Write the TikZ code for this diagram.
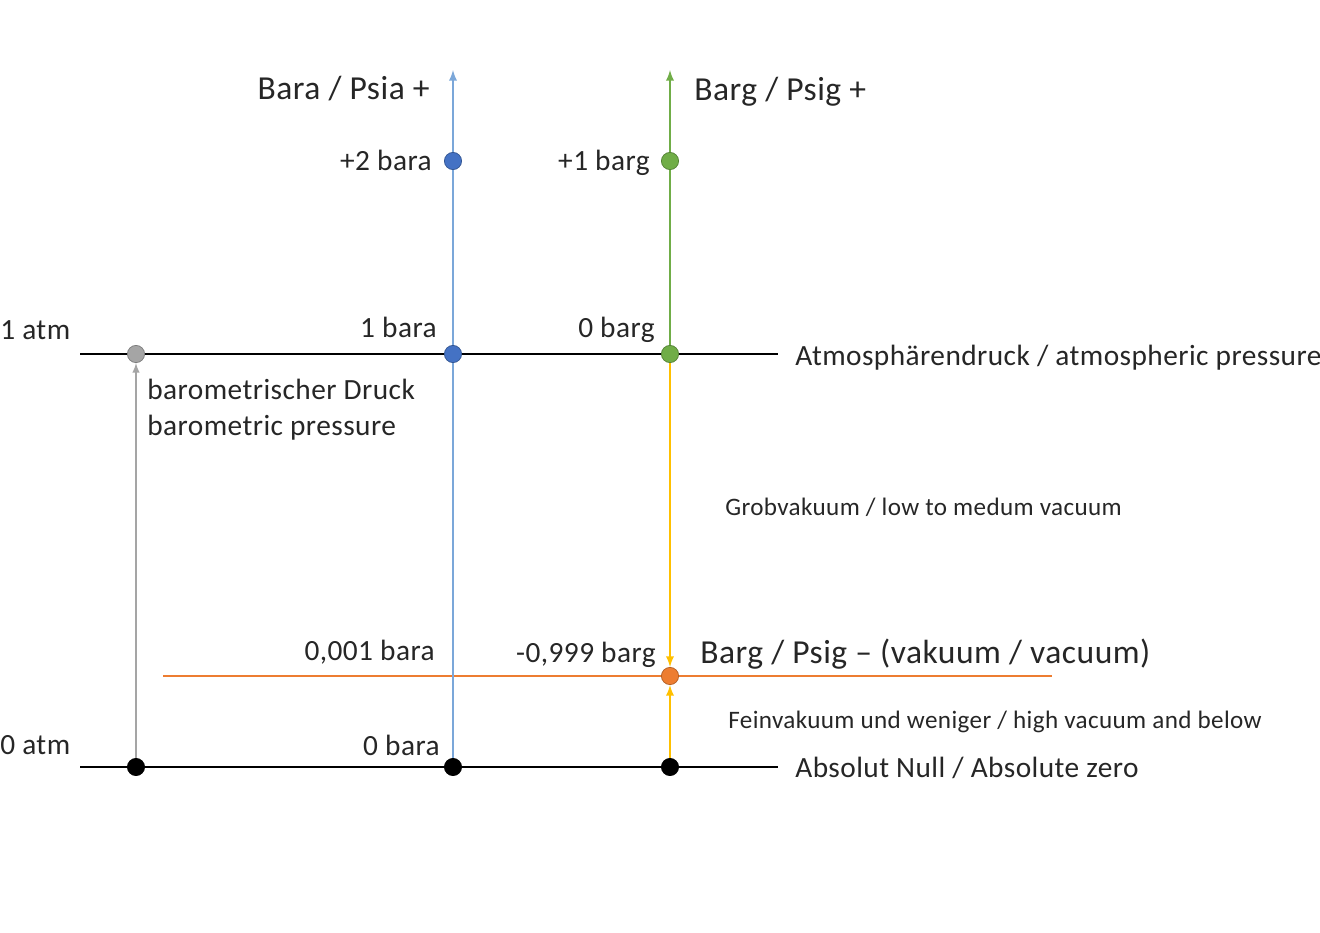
\documentclass[tikz,border=0pt]{standalone}
\usepackage{fontspec}
\setmainfont{Carlito}[LetterSpace=1.5]
\usetikzlibrary{backgrounds}
\definecolor{baraLine}{HTML}{7BA7D9}
\definecolor{baraDot}{HTML}{4472C4}
\definecolor{bargGreen}{HTML}{70AD47}
\definecolor{vacYellow}{HTML}{FFC000}
\definecolor{vacOrange}{HTML}{ED7D31}
\definecolor{baroGray}{HTML}{A5A5A5}
\definecolor{labelInk}{HTML}{262626}
\tikzset{
  dot/.style={circle, fill=#1, draw=#1!75!black, line width=0.4pt, minimum size=9.8pt, inner sep=0pt},
  bigText/.style={font=\fontsize{19.1}{23}\selectfont, text=labelInk, inner sep=0pt},
  midText/.style={font=\fontsize{16.7}{20.4}\selectfont, text=labelInk, inner sep=0pt},
  smallText/.style={font=\fontsize{14.3}{17}\selectfont, text=labelInk, inner sep=0pt},
  levelLine/.style={line width=1.6pt},
  scaleLine/.style={line width=1.1pt}
}
\begin{document}
\begin{tikzpicture}[x=0.02cm, y=-0.02cm]
	\useasboundingbox (0,0) rectangle (1320,933);

	% dots
	\node[dot=baroGray](baroAtm) at (136,354){};
	\node[dot=black](baroZero) at (136,767){};
	\node[dot=baraDot](baraTwo) at (453,161){};
	\node[dot=baraDot](baraOne) at (453,354){};
	\node[dot=black](baraZero) at (453,767){};
	\node[dot=bargGreen](bargOne) at (670,161){};
	\node[dot=bargGreen](bargZero) at (670,354){};
	\node[dot=vacOrange](bargVac) at (670,676){};
	\node[dot=black](bargAbs) at (670,767){};

	\coordinate (atmLeft) at (80,354);
	\coordinate (atmRight) at (778,354);
	\coordinate (absLeft) at (80,767);
	\coordinate (absRight) at (778,767);
	\coordinate (vacLeft) at (163,676);
	\coordinate (vacRight) at (1052,676);
	\coordinate (baraTop) at (453,70);
	\coordinate (bargTop) at (670,70);

	\begin{scope}[on background layer]
		% draw level lines
		\draw[levelLine] (atmLeft) -- (atmRight);
		\draw[levelLine] (absLeft) -- (absRight);
		\draw[scaleLine, vacOrange] (vacLeft) -- (vacRight);

		% draw scale axes
		\draw[-latex, scaleLine, baraLine] (baraZero.center) -- (baraTop);
		\draw[-latex, scaleLine, bargGreen] (bargZero.center) -- (bargTop);
		\draw[-latex, line width=0.9pt, baroGray] (baroZero) -- (baroAtm);
	\end{scope}

	% draw vacuum edges
	\draw[-latex, scaleLine, vacYellow] (bargZero) -- (bargVac);
	\draw[-latex, scaleLine, vacYellow] (bargAbs) -- (bargVac);

	% labels
	\node[bigText, anchor=east](baraHead) at (430,89){Bara / Psia +};
	\node[bigText, anchor=west](bargHead) at (694,92){Barg / Psig +};
	\node[midText, anchor=east](baraTwoLbl) at (432,160){+2 bara};
	\node[midText, anchor=east](bargOneLbl) at (650,163){+1 barg};
	\node[midText, anchor=west](atmLbl) at (0,330){1 atm};
	\node[midText, anchor=east](baraOneLbl) at (437,327){1 bara};
	\node[midText, anchor=east](bargZeroLbl) at (655,330){0 barg};
	\node[midText, anchor=west](atmText) at (795,358){Atmosphärendruck / atmospheric pressure};
	\node[midText, anchor=north west, align=left](baroText) at (147,379){barometrischer Druck\\barometric pressure};
	\node[smallText, anchor=west](roughText) at (725,507){Grobvakuum / low to medum vacuum};
	\node[midText, anchor=east](baraVacLbl) at (435,652){0,001 bara};
	\node[midText, anchor=east](bargVacLbl) at (656,655){-0,999 barg};
	\node[bigText, anchor=west](vacHead) at (700,654){Barg / Psig -- (vakuum / vacuum)};
	\node[smallText, anchor=west](fineText) at (728,722){Feinvakuum und weniger / high vacuum and below};
	\node[midText, anchor=west](zeroAtmLbl) at (0,745){0 atm};
	\node[midText, anchor=east](baraZeroLbl) at (440,745){0 bara};
	\node[midText, anchor=west](absText) at (795,768){Absolut Null / Absolute zero};
\end{tikzpicture}
\end{document}
